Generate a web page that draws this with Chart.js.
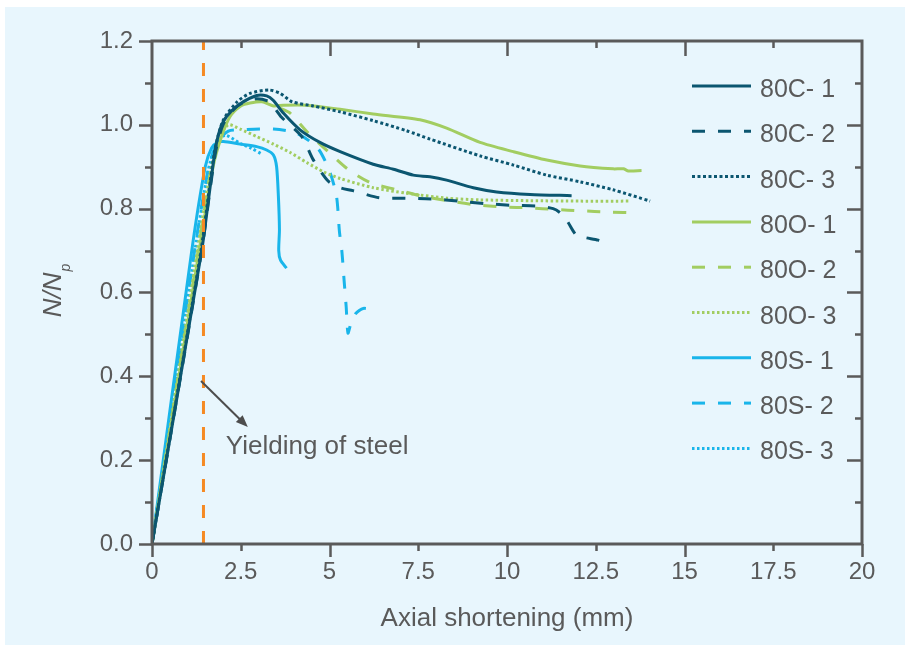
<!DOCTYPE html>
<html>
<head>
<meta charset="utf-8">
<title>Axial load vs shortening</title>
<script src="https://cdn.jsdelivr.net/npm/chart.js@4.4.0/dist/chart.umd.min.js"></script>
<style>
  html, body { margin: 0; padding: 0; background: #ffffff; }
  #wrap { width: 910px; height: 649px; }
</style>
</head>
<body>
<div id="wrap"><canvas id="loadChart" width="910" height="649"></canvas></div>
<script>
// Specimen names
const seriesLabels = ["80C- 1", "80C- 2", "80C- 3", "80O- 1", "80O- 2", "80O- 3", "80S- 1", "80S- 2", "80S- 3"];

// Axial shortening (mm) / normalised load N/Np for each specimen
const c1X = [0, 1.40, 1.62, 1.78, 1.92, 2.10, 2.48, 2.95, 3.23, 3.42, 3.70, 4.17, 4.73, 5.30, 6.23, 6.80, 7.36, 7.83, 8.30, 9.05, 9.71, 10.65, 11.82];
const c1Y = [0, 0.70, 0.84, 0.94, 0.99, 1.02, 1.05, 1.07, 1.069, 1.058, 1.028, 0.988, 0.958, 0.936, 0.906, 0.894, 0.880, 0.876, 0.868, 0.850, 0.840, 0.834, 0.831];

const c2X = [0, 1.40, 1.78, 2.00, 2.40, 2.90, 3.30, 3.65, 4.22, 4.54, 4.96, 5.30, 5.66, 6.40, 7.16, 7.90, 8.65, 9.41, 10.14, 10.90, 11.30, 11.50, 11.70, 11.95, 12.20, 12.57, 12.93];
const c2Y = [0, 0.70, 0.93, 1.00, 1.045, 1.062, 1.055, 1.018, 0.972, 0.917, 0.866, 0.850, 0.843, 0.826, 0.825, 0.823, 0.818, 0.812, 0.808, 0.806, 0.800, 0.790, 0.770, 0.737, 0.731, 0.725, 0.715];

const c3X = [0, 1.38, 1.76, 2.00, 2.40, 2.76, 3.30, 3.61, 3.95, 4.54, 5.30, 6.23, 7.17, 7.83, 9.24, 10.18, 11.12, 12.06, 12.99, 14.03];
const c3Y = [0, 0.70, 0.935, 1.01, 1.055, 1.075, 1.083, 1.075, 1.055, 1.045, 1.031, 1.010, 0.986, 0.966, 0.926, 0.904, 0.880, 0.864, 0.845, 0.818];

const o1X = [0, 1.33, 1.72, 1.95, 2.20, 2.50, 2.76, 3.10, 3.42, 3.70, 4.36, 5.30, 6.23, 7.55, 8.30, 9.24, 10.18, 11.12, 12.06, 12.99, 13.28, 13.42, 13.79];
const o1Y = [0, 0.70, 0.90, 0.97, 1.02, 1.045, 1.052, 1.055, 1.045, 1.047, 1.047, 1.037, 1.026, 1.012, 0.992, 0.958, 0.936, 0.916, 0.902, 0.895, 0.895, 0.890, 0.891];

const o2X = [0, 1.30, 1.68, 1.95, 2.30, 2.75, 3.20, 3.60, 3.89, 4.36, 4.96, 5.52, 6.15, 6.90, 7.60, 8.39, 9.12, 9.89, 10.65, 11.35, 12.08, 12.85, 13.70];
const o2Y = [0, 0.70, 0.90, 0.98, 1.035, 1.060, 1.055, 1.040, 1.028, 0.984, 0.936, 0.894, 0.862, 0.845, 0.830, 0.818, 0.809, 0.804, 0.802, 0.798, 0.795, 0.792, 0.790];

const o3X = [0, 1.28, 1.65, 1.90, 2.15, 2.48, 2.95, 3.42, 3.89, 4.36, 4.83, 5.30, 6.23, 7.17, 8.30, 9.24, 10.65, 12.06, 13.46];
const o3Y = [0, 0.70, 0.89, 0.97, 1.00, 0.990, 0.972, 0.954, 0.934, 0.910, 0.888, 0.872, 0.850, 0.837, 0.825, 0.821, 0.819, 0.818, 0.818];

const s1X = [0, 1.12, 1.50, 1.68, 1.85, 2.01, 2.48, 2.95, 3.23, 3.42, 3.51, 3.56, 3.59, 3.57, 3.62, 3.79];
const s1Y = [0, 0.70, 0.90, 0.945, 0.958, 0.960, 0.954, 0.948, 0.940, 0.928, 0.900, 0.830, 0.750, 0.700, 0.677, 0.658];

const s2X = [0, 1.20, 1.60, 1.85, 2.15, 2.48, 3.42, 4.08, 4.68, 5.02, 5.20, 5.28, 5.35, 5.41, 5.47, 5.52, 5.60, 5.74, 5.95, 6.23];
const s2Y = [0, 0.70, 0.90, 0.96, 0.985, 0.988, 0.990, 0.980, 0.943, 0.885, 0.828, 0.745, 0.697, 0.630, 0.566, 0.503, 0.525, 0.550, 0.562, 0.558];

const s3X = [0, 1.21, 1.58, 1.80, 2.06, 2.48, 2.80, 3.10];
const s3Y = [0, 0.70, 0.89, 0.95, 0.975, 0.956, 0.944, 0.930];

// Yielding of steel marker
const yieldX = 1.45;
const yieldY = [0, 1.2];

// Tick labels
const xTickStep = 2.5;
const yTickStep = 0.2;

const xSeries = [c1X, c2X, c3X, o1X, o2X, o3X, s1X, s2X, s3X];
const ySeries = [c1Y, c2Y, c3Y, o1Y, o2Y, o3Y, s1Y, s2Y, s3Y];

const DARK = "#0b5670";
const GREEN = "#a2cd61";
const CYAN = "#19b5ea";
const ORANGE = "#f58a23";
const INK = "#5a5a5a";
const FONT = "'Liberation Sans', Arial, Helvetica, sans-serif";

const colors = [DARK, DARK, DARK, GREEN, GREEN, GREEN, CYAN, CYAN, CYAN];
const dashes = [[], [13, 13], [3, 2.5], [], [13, 13], [2.5, 2.5], [], [13, 13], [2.5, 2.5]];

const toPoints = (xs, ys) => xs.map((x, i) => ({ x: x, y: ys[i] }));

const datasets = seriesLabels.map((label, i) => ({
  label: label,
  data: toPoints(xSeries[i], ySeries[i]),
  borderColor: colors[i],
  borderDash: dashes[i],
  borderWidth: 3,
  borderCapStyle: "butt",
  fill: false,
  tension: 0.25,
}));

datasets.push({
  label: "yield",
  data: yieldY.map((y) => ({ x: yieldX, y: y })),
  borderColor: ORANGE,
  borderDash: [13, 13],
  borderWidth: 3,
  tension: 0,
  order: -1,
});

// frame, tick marks, legend and annotation drawn on the canvas
const decorations = {
  id: "decorations",
  beforeDraw(chart) {
    const ctx = chart.ctx;
    ctx.save();
    ctx.fillStyle = "#ffffff";
    ctx.fillRect(0, 0, chart.width, chart.height);
    ctx.fillStyle = "#e8f6fd";
    ctx.fillRect(5, 7, 900, 638);
    ctx.restore();
  },
  afterDatasetsDraw(chart) {
    const ctx = chart.ctx;
    const { left, right, top, bottom } = chart.chartArea;
    const xs = chart.scales.x;
    const ys = chart.scales.y;
    ctx.save();

    // axis box
    ctx.strokeStyle = INK;
    ctx.lineWidth = 3;
    ctx.setLineDash([]);
    ctx.strokeRect(left, top, right - left, bottom - top);

    // x ticks: outward at bottom, inward at top
    ctx.lineWidth = 2.5;
    for (let i = 0; i <= 8; i++) {
      const px = Math.round(xs.getPixelForValue(i * 2.5)) + 0.5;
      const major = i % 2 === 0;
      ctx.beginPath();
      ctx.moveTo(px, bottom);
      ctx.lineTo(px, bottom + (major ? 13 : 7));
      if (i > 0 && i < 8) {
        ctx.moveTo(px, top);
        ctx.lineTo(px, top + (major ? 15 : 7));
      }
      ctx.stroke();
    }
    // y ticks: outward at left, inward at right
    for (let i = 0; i <= 12; i++) {
      const py = Math.round(ys.getPixelForValue(i * 0.1)) + 0.5;
      const major = i % 2 === 0;
      ctx.beginPath();
      ctx.moveTo(left, py);
      ctx.lineTo(left - (major ? 13 : 7), py);
      if (i > 0 && i < 12) {
        ctx.moveTo(right, py);
        ctx.lineTo(right - (major ? 15 : 7), py);
      }
      ctx.stroke();
    }

    // legend
    ctx.textAlign = "left";
    ctx.textBaseline = "alphabetic";
    ctx.font = "25px " + FONT;
    chart.data.datasets.slice(0, seriesLabels.length).forEach((ds, i) => {
      const ly = 86 + i * 45.3;
      ctx.strokeStyle = ds.borderColor;
      ctx.lineWidth = 3;
      ctx.setLineDash(ds.borderDash);
      ctx.beginPath();
      ctx.moveTo(692, ly);
      ctx.lineTo(751, ly);
      ctx.stroke();
      ctx.setLineDash([]);
      ctx.fillStyle = INK;
      ctx.fillText(ds.label, 760, ly + 11);
    });

    // arrow and note
    const ax0 = xs.getPixelForValue(1.38), ay0 = ys.getPixelForValue(0.389);
    const ax1 = xs.getPixelForValue(2.70), ay1 = ys.getPixelForValue(0.279);
    const ang = Math.atan2(ay1 - ay0, ax1 - ax0);
    ctx.strokeStyle = "#4d4d4d";
    ctx.fillStyle = "#4d4d4d";
    ctx.lineWidth = 2;
    ctx.beginPath();
    ctx.moveTo(ax0, ay0);
    ctx.lineTo(ax1 - 8 * Math.cos(ang), ay1 - 8 * Math.sin(ang));
    ctx.stroke();
    ctx.beginPath();
    ctx.moveTo(ax1, ay1);
    ctx.lineTo(ax1 - 13 * Math.cos(ang - 0.38), ay1 - 13 * Math.sin(ang - 0.38));
    ctx.lineTo(ax1 - 13 * Math.cos(ang + 0.38), ay1 - 13 * Math.sin(ang + 0.38));
    ctx.closePath();
    ctx.fill();

    ctx.fillStyle = INK;
    ctx.font = "26px " + FONT;
    ctx.fillText("Yielding of steel", xs.getPixelForValue(2.08), ys.getPixelForValue(0.215));

    // x axis title
    ctx.textAlign = "center";
    ctx.fillText("Axial shortening (mm)", (left + right) / 2, 626);

    // y axis title N/Np
    ctx.translate(61, 291);
    ctx.rotate(-Math.PI / 2);
    ctx.textAlign = "left";
    ctx.font = "italic 26px " + FONT;
    const main = "N/N";
    const wMain = ctx.measureText(main).width;
    ctx.font = "italic 14px " + FONT;
    const wSub = ctx.measureText("p").width;
    const start = -(wMain + wSub) / 2;
    ctx.font = "italic 26px " + FONT;
    ctx.fillText(main, start, 0);
    ctx.font = "italic 14px " + FONT;
    ctx.fillText("p", start + wMain + 1, 9);

    ctx.restore();
  },
};

const ctx = document.getElementById("loadChart").getContext("2d");
new Chart(ctx, {
  type: "line",
  data: { datasets: datasets },
  options: {
    responsive: false,
    animation: false,
    layout: { padding: { top: 41, right: 48, left: 0, bottom: 0 } },
    elements: { point: { radius: 0 } },
    plugins: {
      legend: { display: false },
      tooltip: { enabled: false },
    },
    scales: {
      x: {
        type: "linear",
        min: 0,
        max: 20,
        grid: { display: false, drawTicks: false },
        border: { display: false },
        ticks: {
          stepSize: xTickStep,
          padding: 14,
          maxRotation: 0,
          color: INK,
          font: { family: FONT, size: 24 },
        },
        afterFit(scale) {
          scale.height = 105;
        },
      },
      y: {
        type: "linear",
        min: 0,
        max: 1.2,
        grid: { display: false, drawTicks: false },
        border: { display: false },
        ticks: {
          stepSize: yTickStep,
          padding: 19,
          color: INK,
          font: { family: FONT, size: 24 },
          callback: (v) => v.toFixed(1),
        },
        afterFit(scale) {
          scale.width = 152;
        },
      },
    },
  },
  plugins: [decorations],
});
</script>
</body>
</html>
